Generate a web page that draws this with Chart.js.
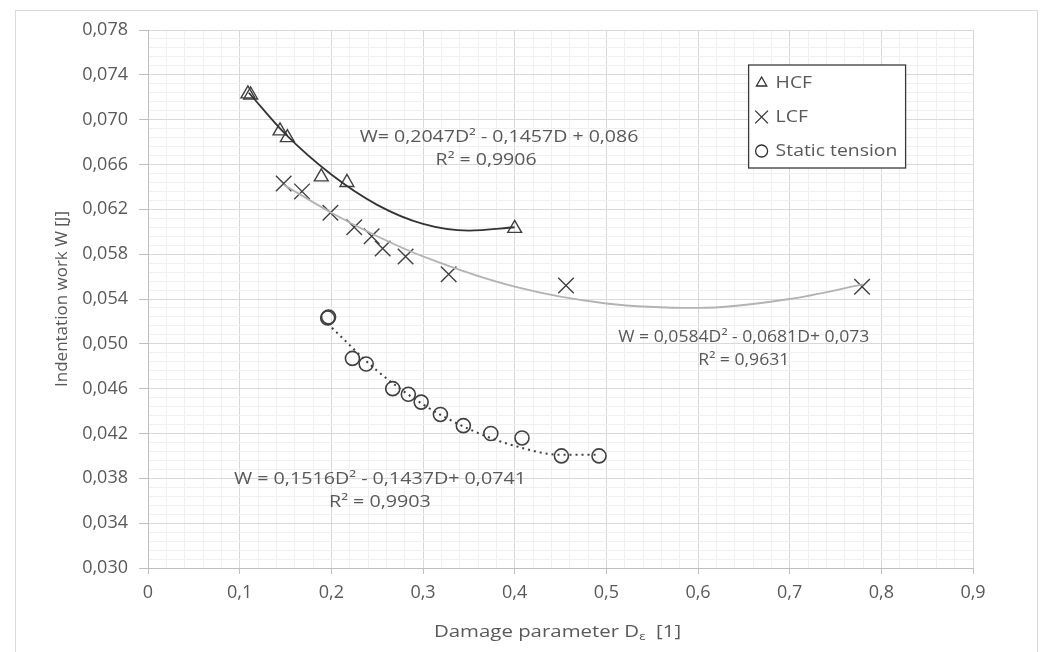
<!DOCTYPE html>
<html>
<head>
<meta charset="utf-8">
<script src="https://cdn.jsdelivr.net/npm/chart.js@4.4.1/dist/chart.umd.min.js"></script>
<style>
  body { margin: 0; background: #fff; }
  #wrap { position: relative; width: 1040px; height: 652px; overflow: hidden; }
  #frame { position: absolute; left: 15px; top: 10px; width: 1021px; height: 660px; border: 1px solid #d9d9d9; }
  #c { position: absolute; left: 0; top: 0; }
</style>
</head>
<body>
<div id="wrap">
  <div id="frame"></div>
  <canvas id="c" width="1040" height="652"></canvas>
</div>
<script>
// measured points, damage parameter D and indentation work W
const hcfD = [0.109, 0.112, 0.144, 0.152, 0.189, 0.217, 0.400];
const hcfW = [0.0723, 0.0722, 0.0690, 0.0684, 0.0649, 0.0644, 0.0603];

const lcfD = [0.148, 0.168, 0.199, 0.225, 0.244, 0.256, 0.281, 0.328, 0.456, 0.779];
const lcfW = [0.0643, 0.0636, 0.0617, 0.0604, 0.0596, 0.0585, 0.0578, 0.0562, 0.0552, 0.0551];

const staticD = [0.196, 0.197, 0.223, 0.238, 0.267, 0.284, 0.298, 0.319, 0.344, 0.374, 0.408, 0.451, 0.492];
const staticW = [0.0523, 0.0524, 0.0487, 0.0482, 0.0460, 0.0455, 0.0448, 0.0437, 0.0427, 0.0420, 0.0416, 0.0400, 0.0400];

// trend lines
const hcfTrendD = [0.11, 0.15, 0.20, 0.25, 0.30, 0.35, 0.40];
const hcfTrendW = [0.0724, 0.0687, 0.0651, 0.0624, 0.0607, 0.0601, 0.0604];
const lcfTrendD = [0.148, 0.20, 0.25, 0.30, 0.40, 0.50, 0.60, 0.70, 0.78];
const lcfTrendW = [0.0642, 0.0617, 0.0596, 0.0578, 0.0551, 0.0536, 0.0532, 0.0540, 0.0553];
const staticTrendD = [0.196, 0.25, 0.30, 0.35, 0.40, 0.45, 0.492];
const staticTrendW = [0.0518, 0.0476, 0.0446, 0.0424, 0.0409, 0.0401, 0.0401];

const seriesNames = ['HCF', 'LCF', 'Static tension'];
const equations = [
  ['W= 0,2047D\u00B2 - 0,1457D + 0,086', 'R\u00B2 = 0,9906'],
  ['W = 0,0584D\u00B2 - 0,0681D+ 0,073', 'R\u00B2 = 0,9631'],
  ['W = 0,1516D\u00B2 - 0,1437D+ 0,0741', 'R\u00B2 = 0,9903']
];

const xMin = 0, xMax = 0.9, xMajor = 0.1, xMinor = 0.02;
const yMin = 0.030, yMax = 0.078, yMajor = 0.004, yMinor = 0.0008;

const textColor = '#595959';
const markColor = '#404040';
const fontFamily = "'Open Sans', 'Liberation Sans', sans-serif";

// equation label placement: centre of first line in data units,
// horizontal stretch, and shift of the R² line in px
const eqPlaces = [
  { d: 0.383, w: 0.0684, sx: 1.22, dx: -13 },
  { d: 0.650, w: 0.0506, sx: 1.10, dx: 0 },
  { d: 0.253, w: 0.0379, sx: 1.23, dx: 0 }
];

const pts = (xs, ys) => xs.map((x, i) => ({ x: x, y: ys[i] }));
const isMajor = (v, base, step) => {
  const k = (v - base) / step;
  return Math.abs(k - Math.round(k)) < 1e-6;
};
const comma = (v, digits) => v === 0 ? '0' : v.toFixed(digits).replace('.', ',');

const markerStyles = [
  { pointStyle: 'triangle', radius: 8, borderWidth: 1.4 },
  { pointStyle: 'crossRot', radius: 11, borderWidth: 1.4 },
  { pointStyle: 'circle', radius: 7, borderWidth: 1.6 }
];

function trend(data, color, width, dash) {
  return {
    data: data, showLine: true, borderColor: color, borderWidth: width,
    borderDash: dash || [], pointRadius: 0, pointHoverRadius: 0,
    cubicInterpolationMode: 'monotone', fill: false
  };
}
function marks(label, data, s) {
  return {
    label: label, data: data, showLine: false, pointStyle: s.pointStyle,
    pointRadius: s.radius, pointHoverRadius: s.radius, pointBorderWidth: s.borderWidth,
    borderColor: markColor, backgroundColor: 'rgba(0,0,0,0)'
  };
}

// the source text is a little wider than it is tall
function wideText(ctx, text, x, y, align, sx) {
  ctx.save();
  ctx.translate(x, y);
  ctx.scale(sx, 1);
  ctx.textAlign = align;
  ctx.fillText(text, 0, 0);
  ctx.restore();
}

const overlay = {
  id: 'overlay',
  afterDraw(chart) {
    const ctx = chart.ctx;
    const x = chart.scales.x, y = chart.scales.y;
    const area = chart.chartArea;
    ctx.save();
    ctx.fillStyle = textColor;
    ctx.textBaseline = 'middle';
    ctx.font = '16px ' + fontFamily;
    equations.forEach((lines, i) => {
      const p = eqPlaces[i];
      const px = x.getPixelForValue(p.d);
      const py = y.getPixelForValue(p.w);
      wideText(ctx, lines[0], px, py, 'center', p.sx);
      wideText(ctx, lines[1], px + p.dx, py + 23, 'center', p.sx);
    });

    // x axis title with subscript epsilon
    const st = 1.2;
    const a = 'Damage parameter D', sub = '\u03B5', b = '  [1]';
    ctx.font = '17px ' + fontFamily;
    const wa = ctx.measureText(a).width * st, wb = ctx.measureText(b).width * st;
    ctx.font = '11px ' + fontFamily;
    const ws = ctx.measureText(sub).width * st;
    const tx = (area.left + area.right) / 2 - (wa + ws + wb) / 2 - 3;
    const ty = 632;
    ctx.font = '17px ' + fontFamily;
    wideText(ctx, a, tx, ty, 'left', st);
    wideText(ctx, b, tx + wa + ws, ty, 'left', st);
    ctx.font = '11px ' + fontFamily;
    wideText(ctx, sub, tx + wa, ty + 5, 'left', st);

    // legend box
    const lx = area.left + (area.right - area.left) * 0.728;
    const ly = area.top + 35;
    const lw = 157, lh = 103;
    ctx.fillStyle = '#fff';
    ctx.fillRect(lx, ly, lw, lh);
    ctx.strokeStyle = '#3a3a3a';
    ctx.lineWidth = 1.3;
    ctx.strokeRect(lx, ly, lw, lh);
    seriesNames.forEach((name, i) => {
      const cy = ly + 18 + i * 34;
      const s = markerStyles[i];
      ctx.strokeStyle = '#303030';
      ctx.fillStyle = 'rgba(0,0,0,0)';
      ctx.lineWidth = 1.3;
      Chart.helpers.drawPoint(ctx, { pointStyle: s.pointStyle, radius: i === 1 ? 9 : 6, rotation: 0, borderWidth: 1.3 }, lx + 13, cy);
      ctx.fillStyle = textColor;
      ctx.font = '17px ' + fontFamily;
      wideText(ctx, name, lx + 27, cy, 'left', 1.14);
    });
    ctx.restore();
  }
};

new Chart(document.getElementById('c'), {
  type: 'scatter',
  data: {
    datasets: [
      trend(pts(hcfTrendD, hcfTrendW), '#333333', 1.8),
      trend(pts(lcfTrendD, lcfTrendW), '#b3b3b3', 1.8),
      trend(pts(staticTrendD, staticTrendW), '#404040', 2, [2, 4]),
      marks(seriesNames[0], pts(hcfD, hcfW), markerStyles[0]),
      marks(seriesNames[1], pts(lcfD, lcfW), markerStyles[1]),
      marks(seriesNames[2], pts(staticD, staticW), markerStyles[2])
    ]
  },
  options: {
    responsive: false,
    animation: false,
    devicePixelRatio: 1,
    layout: { padding: { left: 48, top: 30, right: 67, bottom: 0 } },
    plugins: { legend: { display: false }, tooltip: { enabled: false } },
    scales: {
      x: {
        type: 'linear', min: xMin, max: xMax,
        afterFit(scale) { scale.height = 84; },
        border: { color: '#bfbfbf' },
        grid: {
          color: c => (c.tick && isMajor(c.tick.value, xMin, xMajor)) ? '#d9d9d9' : '#f0f0f0',
          tickColor: c => (c.tick && isMajor(c.tick.value, xMin, xMajor)) ? '#bfbfbf' : 'rgba(0,0,0,0)',
          tickLength: 6
        },
        ticks: {
          stepSize: xMinor, autoSkip: false, maxRotation: 0, padding: 8,
          color: textColor, font: { family: fontFamily, size: 18 },
          callback: v => isMajor(v, xMin, xMajor) ? comma(v, 1) : ''
        }
      },
      y: {
        type: 'linear', min: yMin, max: yMax,
        afterFit(scale) { scale.width = 100; },
        border: { color: '#bfbfbf' },
        grid: {
          color: c => (c.tick && isMajor(c.tick.value, yMin, yMajor)) ? '#d9d9d9' : '#f0f0f0',
          tickColor: c => (c.tick && isMajor(c.tick.value, yMin, yMajor)) ? '#bfbfbf' : 'rgba(0,0,0,0)',
          tickLength: 9
        },
        ticks: {
          stepSize: yMinor, autoSkip: false, padding: 11,
          color: textColor, font: { family: fontFamily, size: 18 },
          callback: v => isMajor(v, yMin, yMajor) ? comma(v, 3) : ''
        },
        title: {
          display: true, text: 'Indentation work W [J]', color: textColor,
          font: { family: fontFamily, size: 17 }, padding: { top: 4, bottom: 0 }
        }
      }
    }
  },
  plugins: [overlay]
});
</script>
</body>
</html>
